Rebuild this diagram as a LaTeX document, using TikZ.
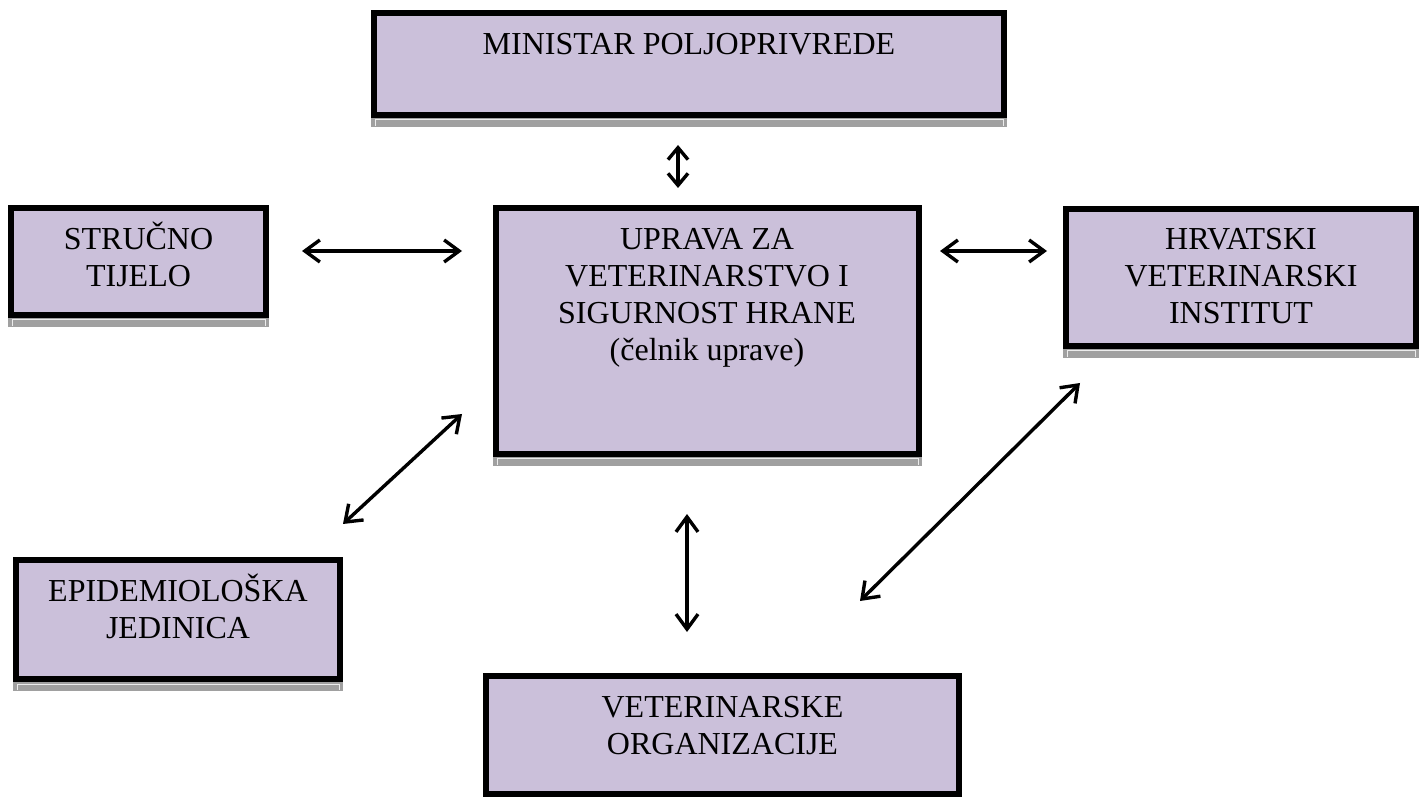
\documentclass[tikz,border=0pt]{standalone}
\usepackage{fontspec}
\setmainfont{Liberation Serif}
\usetikzlibrary{arrows.meta}
\pgfdeclarelayer{bg}
\pgfsetlayers{bg,main}
\definecolor{boxfill}{HTML}{CBC0DA}
\definecolor{shadowgray}{HTML}{A0A0A0}
\newcommand{\mlines}[1]{\begin{tabular}[t]{@{}c@{}}#1\end{tabular}}
\tikzset{
  orgbox/.style={draw=black, fill=boxfill, line width=6pt, rectangle, inner sep=0pt, outer sep=0pt},
  orgtext/.style={anchor=base, inner sep=0pt, font=\fontsize{32}{37}\selectfont},
  link/.style={line width=3.4pt, {Straight Barb[length=15pt,width=22pt]}-{Straight Barb[length=15pt,width=22pt]}},
  shortlink/.style={line width=3.4pt, {Straight Barb[length=12pt,width=20pt]}-{Straight Barb[length=12pt,width=20pt]}}
}
\newcommand{\boxshadow}[1]{%
  \fill[shadowgray] ([xshift=-3pt]#1.south west) rectangle ([xshift=3pt,yshift=-12pt]#1.south east);
  \draw[white!85!gray, line width=1pt] ([xshift=1pt,yshift=-11pt]#1.south west) -- ([xshift=1pt,yshift=-5pt]#1.south west) -- ([xshift=-1pt,yshift=-5pt]#1.south east) -- ([xshift=-1pt,yshift=-11pt]#1.south east);
}
\begin{document}
\begin{tikzpicture}[x=1pt,y=-1pt]
\useasboundingbox (0,0) rectangle (1428,799);

% boxes (centre, size = outer size - line width)
\node[orgbox, minimum width=630pt, minimum height=102pt] (min) at (689,64) {};
\node[orgbox, minimum width=255pt, minimum height=107pt] (str) at (138.5,261.5) {};
\node[orgbox, minimum width=423pt, minimum height=246pt] (upr) at (707.5,331) {};
\node[orgbox, minimum width=350pt, minimum height=137pt] (hvi) at (1241,277.5) {};
\node[orgbox, minimum width=324pt, minimum height=119pt] (epi) at (178,619.5) {};
\node[orgbox, minimum width=473pt, minimum height=118pt] (vet) at (722.5,735) {};

% shadows behind boxes
\begin{pgfonlayer}{bg}
\boxshadow{min}
\boxshadow{str}
\boxshadow{upr}
\boxshadow{hvi}
\boxshadow{epi}
\end{pgfonlayer}

% texts
\node[orgtext] (minT) at (689,55) {\mlines{MINISTAR POLJOPRIVREDE}};
\node[orgtext] (strT) at (138.5,250) {\mlines{STRUČNO\\TIJELO}};
\node[orgtext] (uprT) at (707,250) {\mlines{UPRAVA ZA\\VETERINARSTVO I\\SIGURNOST HRANE\\(čelnik uprave)}};
\node[orgtext] (hviT) at (1241,250) {\mlines{HRVATSKI\\VETERINARSKI\\INSTITUT}};
\node[orgtext] (epiT) at (178,601) {\mlines{EPIDEMIOLOŠKA\\JEDINICA}};
\node[orgtext] (vetT) at (722.5,717) {\mlines{VETERINARSKE\\ORGANIZACIJE}};

% connector end points
\coordinate (a1) at (678,145);  \coordinate (a2) at (678,188);
\coordinate (b1) at (302,251);  \coordinate (b2) at (462,251);
\coordinate (c1) at (940,251);  \coordinate (c2) at (1047,251);
\coordinate (d1) at (343,524);  \coordinate (d2) at (462,414);
\coordinate (e1) at (687,514);  \coordinate (e2) at (687,632);
\coordinate (f1) at (860,601);  \coordinate (f2) at (1080,383);

\draw[shortlink] (a1) -- (a2);
\draw[link] (b1) -- (b2);
\draw[link] (c1) -- (c2);
\draw[link] (d1) -- (d2);
\draw[link] (e1) -- (e2);
\draw[link] (f1) -- (f2);
\end{tikzpicture}
\end{document}
